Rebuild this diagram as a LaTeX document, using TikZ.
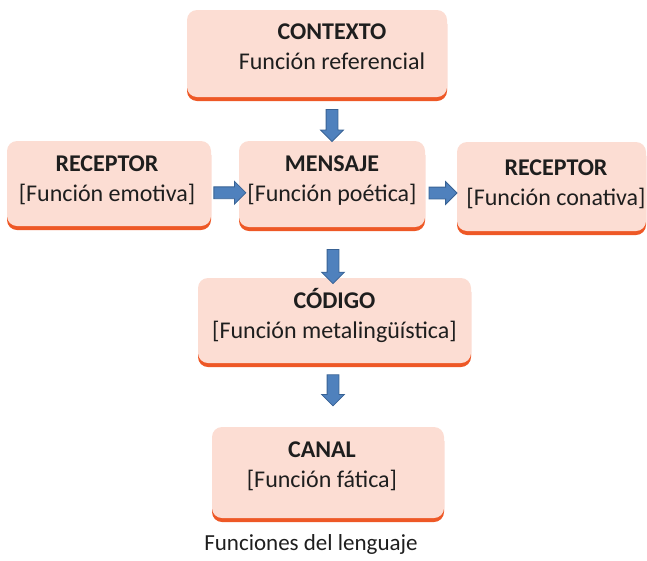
\documentclass[tikz,border=0pt]{standalone}
\usepackage{fontspec}
\setmainfont{Carlito}
\usetikzlibrary{shapes.arrows,shadows}
\definecolor{Box_fill}{RGB}{252, 221, 211}
\definecolor{Box_edge}{RGB}{238, 88, 38}
\definecolor{Arrow_fill}{RGB}{79, 129, 189}
\definecolor{Arrow_line}{RGB}{56, 98, 148}
\definecolor{Text_dark}{RGB}{30, 30, 30}

\begin{document}
\begin{tikzpicture}[x=1pt, y=-1pt,
    funcbox/.style={rounded corners=10pt, fill=Box_fill, inner sep=0pt,
        drop shadow={shadow xshift=0pt, shadow yshift=-4pt, fill=Box_edge, opacity=1}},
    functext/.style={align=center, text=Text_dark, inner sep=0pt,
        font=\fontsize{24}{30}\selectfont},
    blockarrow/.style={single arrow, draw=Arrow_line, fill=Arrow_fill, line width=0.8pt,
        inner sep=5.5pt, single arrow head extend=5.5pt, single arrow head indent=0pt}]
    \useasboundingbox (0,0) rectangle (647,560);

    %% Boxes
    \node[funcbox, minimum width=260pt, minimum height=87pt] (ctx) at (317,53.5) {};
    \node[funcbox, minimum width=204pt, minimum height=85pt] (rcl) at (109,183.5) {};
    \node[funcbox, minimum width=186pt, minimum height=86pt] (msg) at (332,184) {};
    \node[funcbox, minimum width=189pt, minimum height=89pt] (rcr) at (551.5,186.5) {};
    \node[funcbox, minimum width=273pt, minimum height=85pt] (cod) at (334.5,320.5) {};
    \node[funcbox, minimum width=232pt, minimum height=91pt] (can) at (328,472.5) {};

    %% Texts
    \node[functext] (ctx-t) at (332,47) {\textbf{CONTEXTO}\\Función referencial};
    \node[functext] (rcl-t) at (107,180) {\textbf{RECEPTOR}\\{[}Función emotiva{]}};
    \node[functext] (msg-t) at (332,181) {\textbf{MENSAJE}\\{[}Función poética{]}};
    \node[functext] (rcr-t) at (556,184) {\textbf{RECEPTOR}\\{[}Función conativa{]}};
    \node[functext] (cod-t) at (334.5,315) {\textbf{CÓDIGO}\\{[}Función metalingüística{]}};
    \node[functext] (can-t) at (322,466) {\textbf{CANAL}\\{[}Función fática{]}};
    \node[functext, anchor=base, font=\fontsize{23}{30}\selectfont] (caption) at (311,550) {Funciones del lenguaje};

    %% Arrows
    \path (ctx.south -| msg.north) -- node[pos=0.58, blockarrow, rotate=-90, minimum height=32pt] (a-ctx) {} (msg.north);
    \path ([yshift=-9pt]rcl.east) -- node[pos=0.57, blockarrow, minimum height=32pt] (a-rcl) {} ([yshift=-9pt]msg.west);
    \path ([yshift=-9pt]msg.east) -- node[pos=0.47, blockarrow, minimum height=28pt] (a-rcr) {} ([yshift=-9pt]msg.east -| rcr.west);
    \path ([xshift=1pt]msg.south) -- node[pos=0.72, blockarrow, rotate=-90, minimum height=34pt] (a-cod) {} ([xshift=1pt]msg.south |- cod.north);
    \path ([xshift=1pt]msg.south |- cod.south) -- node[pos=0.38, blockarrow, rotate=-90, minimum height=31pt] (a-can) {} ([xshift=1pt]msg.south |- can.north);
\end{tikzpicture}
\end{document}
